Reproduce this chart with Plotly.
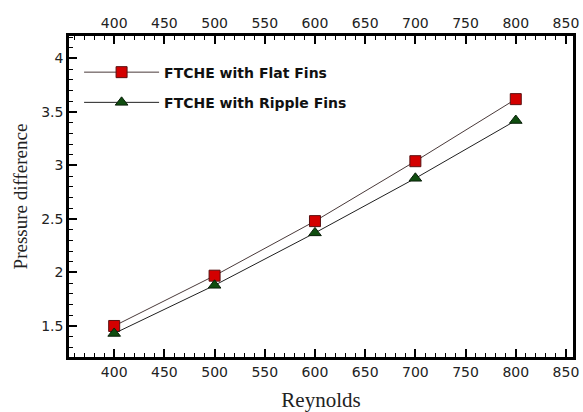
import plotly.graph_objects as go

reynolds = [400, 500, 600, 700, 800]
flat_fins = [1.50, 1.97, 2.48, 3.04, 3.62]
ripple_fins = [1.43, 1.88, 2.37, 2.88, 3.42]
names = ["FTCHE with Flat Fins", "FTCHE with Ripple Fins"]

fig = go.Figure()
fig.add_trace(go.Scatter(
    x=reynolds, y=flat_fins, name=names[0], mode="lines+markers", legendgroup="a",
    line=dict(color="#4a3a3a", width=1),
    marker=dict(symbol="square", size=11, color="#d40000",
                line=dict(color="#5a1010", width=1))))
fig.add_trace(go.Scatter(
    x=reynolds, y=ripple_fins, name=names[1], mode="lines+markers", legendgroup="b",
    line=dict(color="#202020", width=1),
    marker=dict(symbol="triangle-up", size=11, color="#0f4d0f",
                line=dict(color="#0a200a", width=1))))
# invisible trace to activate top axis
fig.add_trace(go.Scatter(x=reynolds, y=flat_fins, xaxis="x2", mode="markers",
                         marker=dict(opacity=0), showlegend=False, hoverinfo="skip"))

tickfont = dict(family="DejaVu Sans", size=14, color="#222")
xcommon = dict(range=[355, 857], tickmode="linear", tick0=400, dtick=50,
               ticks="inside", ticklen=8, tickwidth=2, tickcolor="black",
               minor=dict(ticks="inside", ticklen=4, tickwidth=1, dtick=10, tickcolor="black"),
               showline=True, linecolor="black", linewidth=2.5,
               showgrid=False, zeroline=False, tickfont=tickfont, automargin=False)

fig.update_layout(
    width=583, height=412,
    margin=dict(l=69, r=10, t=36, b=55),
    paper_bgcolor="white", plot_bgcolor="white",
    xaxis=dict(**xcommon, title=dict(text="Reynolds",
               font=dict(family="Liberation Serif, Times New Roman", size=21, color="#222"),
               standoff=15)),
    xaxis2=dict(**xcommon, overlaying="x", side="top", matches="x"),
    yaxis=dict(range=[1.21, 4.21], tickmode="array",
               tickvals=[1.5, 2, 2.5, 3, 3.5, 4], ticktext=["1.5", "2", "2.5", "3", "3.5", "4"],
               ticks="inside", ticklen=8, tickwidth=2, tickcolor="black",
               minor=dict(ticks="inside", ticklen=4, tickwidth=1, tickmode="linear",
                          tick0=1.2, dtick=0.1, tickcolor="black"),
               showline=True, linecolor="black", linewidth=2.5, mirror=True,
               showgrid=False, zeroline=False, tickfont=tickfont, automargin=False,
               title=dict(text="Pressure difference",
                          font=dict(family="Liberation Serif, Times New Roman", size=19, color="#222"),
                          standoff=9)),
    legend=dict(x=0.02, y=0.936, xanchor="left", yanchor="top",
                bgcolor="rgba(0,0,0,0)", itemwidth=75, tracegroupgap=9,
                font=dict(family="DejaVu Sans", size=14, color="#111", weight="bold")),
    showlegend=True,
)
fig.write_html("out.html", config={"displayModeBar": False},
               post_script="document.body.style.margin='0';document.body.style.overflow='hidden';")
